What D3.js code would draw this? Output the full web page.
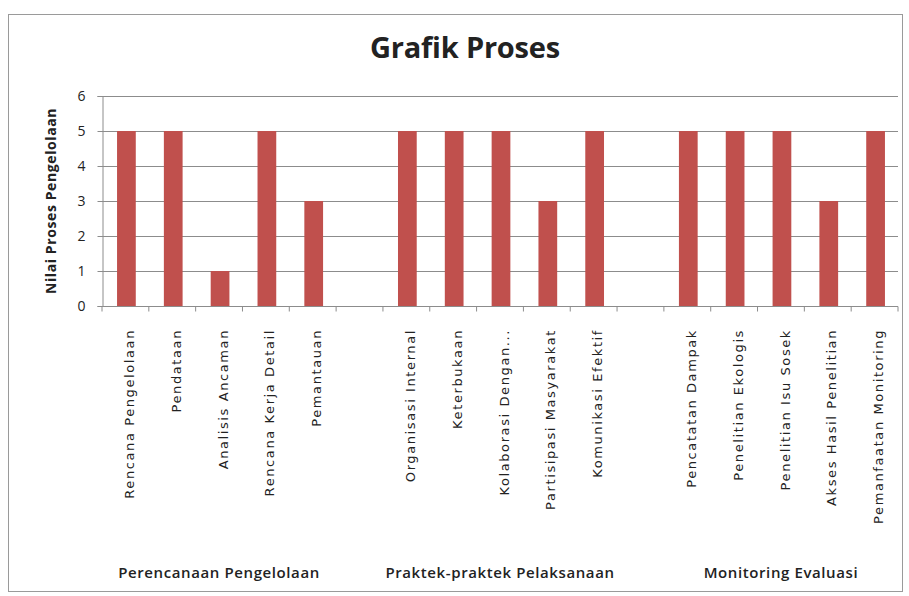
<!DOCTYPE html>
<html><head><meta charset="utf-8">
<script src="https://cdn.jsdelivr.net/npm/d3@7"></script>
<style>
body{margin:0;background:#fff;}
svg{display:block;}
</style></head>
<body>
<script>
const categories = ["Rencana Pengelolaan","Pendataan","Analisis Ancaman","Rencana Kerja Detail","Pemantauan","",
  "Organisasi Internal","Keterbukaan","Kolaborasi Dengan...","Partisipasi Masyarakat","Komunikasi Efektif","",
  "Pencatatan Dampak","Penelitian Ekologis","Penelitian Isu Sosek","Akses Hasil Penelitian","Pemanfaatan Monitoring"];
const values = [5,5,1,5,3,null, 5,5,5,3,5,null, 5,5,5,3,5];
const groups = ["Perencanaan Pengelolaan","Praktek-praktek Pelaksanaan","Monitoring Evaluasi"];
const groupOf = [0,0,0,0,0,null, 1,1,1,1,1,null, 2,2,2,2,2];
const yTicks = [0,1,2,3,4,5,6];
const title = "Grafik Proses";
const yTitle = "Nilai Proses Pengelolaan";

const W = 909, H = 596;
const m = {left:102, right:11, top:96, bottom:290};
const svg = d3.select("body").append("svg").attr("width",W).attr("height",H);

svg.append("rect").attr("x",8.5).attr("y",14.5).attr("width",894).attr("height",577)
  .attr("fill","#fff").attr("stroke","#9a9a9a").attr("stroke-width",1);

const x = d3.scaleBand().domain(d3.range(categories.length)).range([m.left, W-m.right]).paddingInner(0.6).paddingOuter(0.3);
const xs = d3.scaleBand().domain(d3.range(categories.length)).range([m.left, W-m.right]);
const y = d3.scaleLinear().domain([0,6]).range([H-m.bottom, m.top]);

// gridlines
svg.append("g").selectAll("line").data(yTicks.filter(d=>d>0)).join("line")
  .attr("x1",m.left).attr("x2",W-m.right)
  .attr("y1",d=>Math.round(y(d))+0.5).attr("y2",d=>Math.round(y(d))+0.5)
  .attr("stroke","#8c8c8c").attr("stroke-width",1.2);

// bars
svg.append("g").selectAll("rect").data(values.map((v,i)=>({v,i})).filter(d=>d.v!=null)).join("rect")
  .attr("x",d=>x(d.i)+1).attr("width",x.bandwidth())
  .attr("y",d=>y(d.v)).attr("height",d=>y(0)-y(d.v))
  .attr("fill","#c0504d");

// y axis
const ya = svg.append("g").attr("transform",`translate(${m.left+0.5},0)`)
  .call(d3.axisLeft(y).tickValues(yTicks).tickSize(5).tickFormat(d3.format("d")));
ya.select(".domain").attr("stroke","#8c8c8c");
ya.selectAll(".tick line").attr("stroke","#8c8c8c");
ya.selectAll(".tick text").attr("font-family","'Open Sans', sans-serif").attr("font-size",14).attr("fill","#222").attr("x",-17);

// x axis
const xa = svg.append("g").attr("transform",`translate(0,${Math.round(y(0))+0.5})`);
xa.append("line").attr("x1",m.left).attr("x2",W-m.right).attr("stroke","#8c8c8c").attr("stroke-width",1.2);
xa.selectAll("line.tk").data(d3.range(categories.length+1)).join("line").attr("class","tk")
  .attr("x1",i=>i<categories.length?xs(i):W-m.right).attr("x2",i=>i<categories.length?xs(i):W-m.right)
  .attr("y1",0).attr("y2",5).attr("stroke","#8c8c8c");

// category labels
svg.append("g").selectAll("text").data(categories.map((c,i)=>({c,i})).filter(d=>d.c)).join("text")
  .attr("transform",d=>`translate(${xs(d.i)+xs.bandwidth()/2+4},329) rotate(-90)`)
  .attr("text-anchor","end").attr("dy","0.35em")
  .attr("font-family","'DejaVu Sans', sans-serif").attr("font-size",13).attr("letter-spacing",1.6)
  .attr("fill","#222").text(d=>d.c);

// group labels
svg.append("g").selectAll("text").data(groups).join("text")
  .attr("x",(g,gi)=>{const idx=groupOf.map((v,i)=>v===gi?i:-1).filter(i=>i>=0);
     return (xs(idx[0])+xs(idx[idx.length-1])+xs.bandwidth())/2;})
  .attr("y",578).attr("text-anchor","middle")
  .attr("font-family","'Open Sans', sans-serif").attr("font-weight","600").attr("font-size",15)
  .attr("letter-spacing",0.6).attr("fill","#222").text(d=>d);

// title
svg.append("text").attr("x",465).attr("y",58).attr("text-anchor","middle")
  .attr("font-family","'Open Sans', sans-serif").attr("font-weight","bold").attr("font-size",29)
  .attr("letter-spacing",-0.2).attr("fill","#222").text(title);

// y title
svg.append("text").attr("transform",`translate(56,${(y(0)+y(6))/2}) rotate(-90)`)
  .attr("text-anchor","middle").attr("font-family","'Open Sans', sans-serif").attr("font-weight","bold")
  .attr("font-size",14).attr("letter-spacing",0.6).attr("fill","#222").text(yTitle);
</script>
</body></html>
